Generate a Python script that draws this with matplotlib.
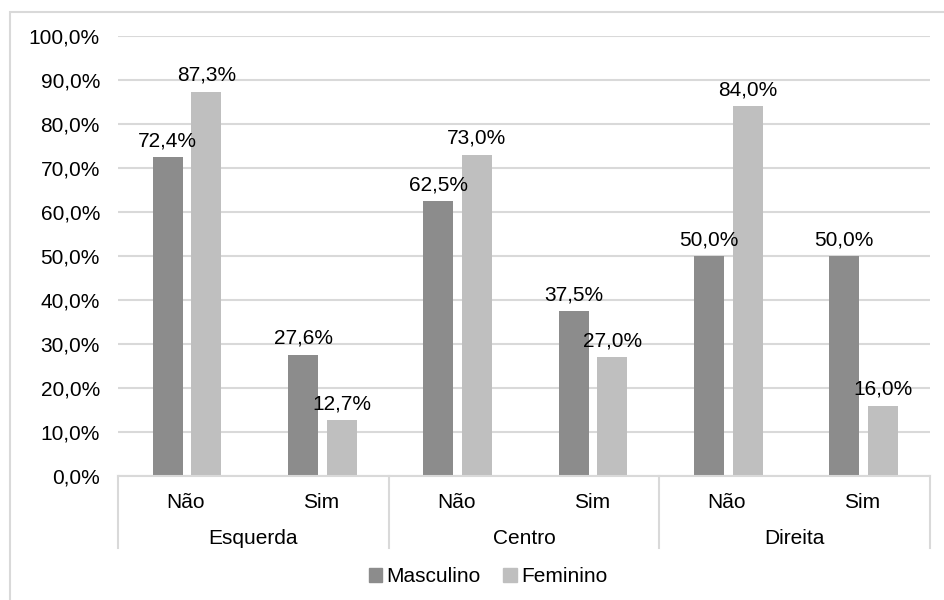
import matplotlib
matplotlib.use("Agg")
import matplotlib.pyplot as plt
from matplotlib.patches import Rectangle
from matplotlib.lines import Line2D
import numpy as np

plt.rcParams['font.family'] = ['Liberation Sans', 'DejaVu Sans']

groups = ["Esquerda", "Centro", "Direita"]
subcats = ["Não", "Sim"]
series_names = ["Masculino", "Feminino"]
masculino = [72.4, 27.6, 62.5, 37.5, 50.0, 50.0]
feminino = [87.3, 12.7, 73.0, 27.0, 84.0, 16.0]
yticks = [0, 10, 20, 30, 40, 50, 60, 70, 80, 90, 100]

colors = ["#8c8c8c", "#bfbfbf"]
grid_c = "#d9d9d9"
fs = 15

W, H = 944, 600
fig = plt.figure(figsize=(W / 100, H / 100), dpi=100)
ax_l, ax_r, ax_t, ax_b = 118, 930, 36, 476
ax = fig.add_axes([ax_l / W, 1 - ax_b / H, (ax_r - ax_l) / W, (ax_b - ax_t) / H])

x = np.arange(len(masculino))
bw = 0.222
for vals, o, c in [(masculino, -0.133, colors[0]), (feminino, 0.152, colors[1])]:
    bars = ax.bar(x + o, vals, width=bw, color=c, zorder=3)
    for b, v in zip(bars, vals):
        ax.annotate(f"{v:.1f}%".replace(".", ","), (b.get_x() + b.get_width() / 2, v),
                    xytext=(0, 5), textcoords="offset points", ha="center", va="bottom",
                    fontsize=fs, color="#000000", zorder=4)

ax.set_xlim(-0.5, len(x) - 0.5)
ax.set_ylim(0, 100)
ax.set_yticks(yticks)
ax.set_yticklabels([f"{t:.1f}%".replace(".", ",") for t in yticks], fontsize=fs)
ax.tick_params(axis="y", length=0, pad=13)
ax.set_xticks([])
ax.yaxis.grid(True, color=grid_c, lw=1.5, zorder=0)
for s in ["left", "right", "top"]:
    ax.spines[s].set_visible(False)
ax.spines["bottom"].set_color(grid_c)
ax.spines["bottom"].set_linewidth(1.5)
ax.spines["bottom"].set_zorder(5)

ah = ax_b - ax_t
trans = ax.get_xaxis_transform()
for i in range(len(x)):
    ax.text(x[i], -26 / ah, subcats[i % 2], transform=trans, ha="center", va="center",
            fontsize=fs, clip_on=False)
for g, name in enumerate(groups):
    ax.text(2 * g + 0.5, -62 / ah, name, transform=trans, ha="center", va="center",
            fontsize=fs, clip_on=False)
for b in [-0.5, 1.5, 3.5, 5.5]:
    ax.add_line(Line2D([b, b], [0, -72 / ah], transform=trans, color=grid_c, lw=1.5,
                       clip_on=False))

handles = [Rectangle((0, 0), 1, 1, color=c) for c in colors]
fig.legend(handles, series_names, loc="center", bbox_to_anchor=(488 / W, 1 - 577 / H),
           ncol=2, frameon=False, fontsize=fs, handlelength=0.65, handleheight=0.65,
           handletextpad=0.2, columnspacing=1.1)

fig.patches.append(Rectangle((10 / W, -0.1), 1.2, 1 - 12 / H + 0.1, transform=fig.transFigure,
                             fill=False, edgecolor=grid_c, lw=1.5))

fig.savefig("out.png", dpi=100)
